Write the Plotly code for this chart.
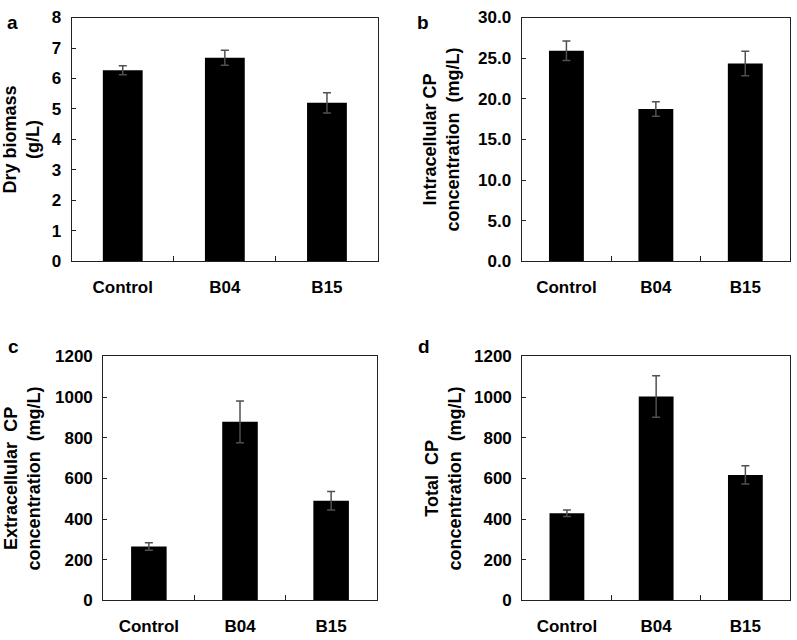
import plotly.graph_objects as go

categories = ["Control", "B04", "B15"]

dry_biomass = [6.27, 6.68, 5.20]
dry_biomass_err = [0.15, 0.25, 0.33]

intra_cp = [25.9, 18.75, 24.35]
intra_cp_err = [1.2, 0.9, 1.5]

extra_cp = [265, 878, 490]
extra_cp_err = [18, 103, 46]

total_cp = [428, 1003, 617]
total_cp_err = [16, 102, 45]

W, H = 797, 640

def dx(a, b):
    return [a / W, b / W]

def dy(top, bottom):
    return [1 - bottom / H, 1 - top / H]

panels = [
    dict(vals=dry_biomass, err=dry_biomass_err, xd=dx(71.7, 378), yd=dy(8.8, 260),
         rng=[0, 8], dtick=1, fmt="d", letter="a", lx=12.5, ly=14,
         title="Dry biomass<br>(g/L)", tx=21),
    dict(vals=intra_cp, err=intra_cp_err, xd=dx(521.7, 790), yd=dy(8.8, 260),
         rng=[0, 30], dtick=5, fmt=".1f", letter="b", lx=423, ly=14,
         title="Intracellular CP<br>concentration  (mg/L)", tx=441),
    dict(vals=extra_cp, err=extra_cp_err, xd=dx(103.3, 376.7), yd=dy(358, 609.5),
         rng=[0, 1200], dtick=200, fmt="d", letter="c", lx=13, ly=348,
         title="Extracellular  CP<br>concentration  (mg/L)", tx=22),
    dict(vals=total_cp, err=total_cp_err, xd=dx(522.3, 790), yd=dy(358, 609.5),
         rng=[0, 1200], dtick=200, fmt="d", letter="d", lx=424, ly=348,
         title="Total  CP<br>concentration  (mg/L)", tx=443),
]

fig = go.Figure()
annotations = []
font_family = "Liberation Sans, Arial, sans-serif"

for i, p in enumerate(panels):
    n = "" if i == 0 else str(i + 1)
    xa, ya = "x" + n, "y" + n
    fig.add_trace(go.Bar(
        x=categories, y=p["vals"], xaxis=xa, yaxis=ya,
        marker=dict(color="black", line=dict(width=0)),
        width=0.39,
        error_y=dict(type="data", array=p["err"], visible=True,
                     color="#505050", thickness=1.5, width=4),
        showlegend=False,
    ))
    common_x = dict(domain=p["xd"], anchor=ya, showline=True, linecolor="#222",
                    linewidth=1.2, mirror=True, ticks="inside", ticklen=5,
                    tickcolor="#222", tickson="boundaries", showgrid=False,
                    ticklabelstandoff=10,
                    tickfont=dict(size=17, family=font_family, color="black", weight="bold"),
                    range=[-0.5, 2.5])
    common_y = dict(domain=p["yd"], anchor=xa, showline=True, linecolor="#222",
                    linewidth=1.2, mirror=True, ticks="inside", ticklen=4,
                    tickcolor="#222", showgrid=False, range=p["rng"], dtick=p["dtick"],
                    tick0=0, tickformat=p["fmt"], zeroline=False,
                    ticklabelstandoff=6,
                    tickfont=dict(size=17, family=font_family, color="black", weight="bold"))
    fig.update_layout(**{("xaxis" + n): common_x, ("yaxis" + n): common_y})
    annotations.append(dict(
        text=p["title"], xref="paper", yref="paper",
        x=p["tx"] / W, y=(p["yd"][0] + p["yd"][1]) / 2,
        xanchor="center", yanchor="middle", textangle=-90, showarrow=False,
        font=dict(size=18, family=font_family, color="black", weight="bold")))
    annotations.append(dict(
        text=p["letter"], xref="paper", yref="paper",
        x=p["lx"] / W, y=1 - p["ly"] / H, xanchor="center", yanchor="middle",
        showarrow=False,
        font=dict(size=19, family=font_family, color="black", weight="bold")))

fig.update_layout(
    width=W, height=H, margin=dict(l=0, r=0, t=0, b=0),
    plot_bgcolor="white", paper_bgcolor="white",
    annotations=annotations, bargap=0.6,
)

fig.write_html("out.html", config={"displayModeBar": False},
               post_script="document.body.style.margin='0';document.body.style.overflow='hidden';")
